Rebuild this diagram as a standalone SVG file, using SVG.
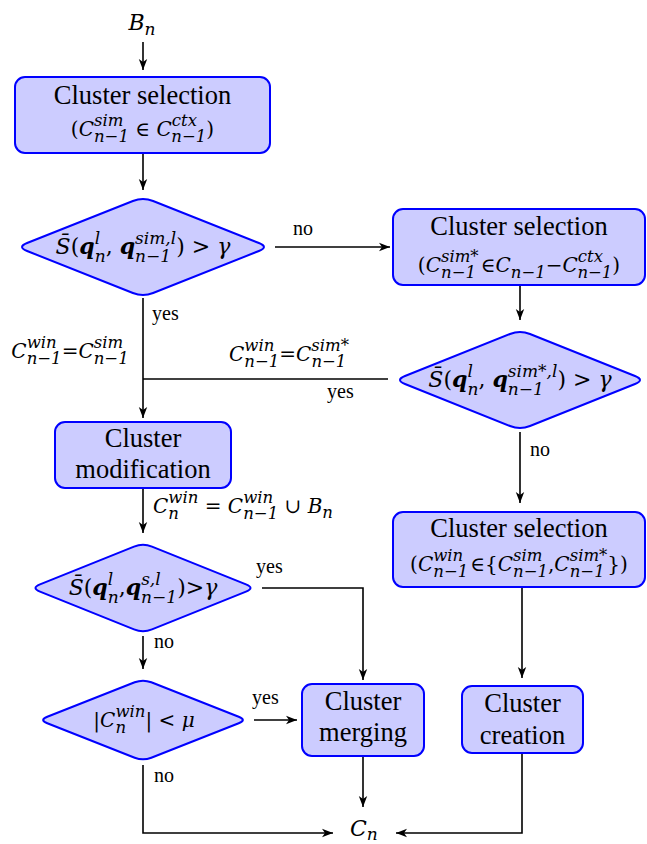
<svg xmlns="http://www.w3.org/2000/svg" width="647" height="844" viewBox="0 0 647 844">
<style>
.tt{font-family:"Liberation Serif",serif;font-size:26.5px;fill:#000}
.lb{font-family:"Liberation Serif",serif;font-size:20px;fill:#000}
.mt{font-family:"DejaVu Serif",serif;font-size:20px;fill:#000}
.md{font-family:"DejaVu Serif",serif;font-size:22px;fill:#000}
.i{font-style:italic}
.q{font-style:italic;font-weight:bold}
.sc{font-size:16.5px;font-style:italic}
.sd{font-size:17px;font-style:italic}
.node{fill:#ccccff;stroke:#0000ff;stroke-width:2}
.edge{fill:none;stroke:#000;stroke-width:1.6}
</style>
<defs>
<marker id="ah" markerUnits="userSpaceOnUse" markerWidth="12" markerHeight="10" viewBox="0 0 12 10" refX="11" refY="5" orient="auto"><path d="M0,0.8 L11,5 L0,9.2 L3,5 Z" fill="#000"/></marker>
</defs>
<rect width="647" height="844" fill="#fff"/>

<g id="connectors">
<path class="edge" d="M143,42 V70" marker-end="url(#ah)"/>
<path class="edge" d="M143,153 V190" marker-end="url(#ah)"/>
<path class="edge" d="M275,247 H390" marker-end="url(#ah)"/>
<path class="edge" d="M520,285 V320" marker-end="url(#ah)"/>
<path class="edge" d="M388,379 H143"/>
<path class="edge" d="M143,298 V418" marker-end="url(#ah)"/>
<path class="edge" d="M143,488 V533" marker-end="url(#ah)"/>
<path class="edge" d="M262,588 H363 V680" marker-end="url(#ah)"/>
<path class="edge" d="M143,636 V669" marker-end="url(#ah)"/>
<path class="edge" d="M254,720 H297" marker-end="url(#ah)"/>
<path class="edge" d="M143,765 V833 H333" marker-end="url(#ah)"/>
<path class="edge" d="M363,756 V807" marker-end="url(#ah)"/>
<path class="edge" d="M522,753 V833 H396" marker-end="url(#ah)"/>
<path class="edge" d="M520,432 V503" marker-end="url(#ah)"/>
<path class="edge" d="M522,587 V678" marker-end="url(#ah)"/>
<text class="lb" x="293" y="235">no</text>
<text class="lb" x="152" y="320">yes</text>
<text class="lb" x="327" y="398">yes</text>
<text class="lb" x="530" y="456">no</text>
<text class="lb" x="256" y="573">yes</text>
<text class="lb" x="154" y="648">no</text>
<text class="lb" x="252" y="704">yes</text>
<text class="lb" x="154" y="782">no</text>
<text class="mt" x="70" y="358" text-anchor="middle"><tspan class="i">C</tspan><tspan class="sc" dy="-10">win</tspan><tspan class="sc" dx="-30" dy="16">n−1</tspan><tspan dy="-6">=</tspan><tspan class="i">C</tspan><tspan class="sc" dy="-10">sim</tspan><tspan class="sc" dx="-29.4" dy="16">n−1</tspan></text>
<text class="mt" x="289" y="361" text-anchor="middle"><tspan class="i">C</tspan><tspan class="sc" dy="-10">win</tspan><tspan class="sc" dx="-30" dy="16">n−1</tspan><tspan dy="-6">=</tspan><tspan class="i">C</tspan><tspan class="sc" dy="-10">sim*</tspan><tspan class="sc" dx="-37.6" dy="16">n−1</tspan></text>
<text class="mt" x="153" y="513"><tspan class="i">C</tspan><tspan class="sc" dy="-10">win</tspan><tspan class="sc" dx="-30" dy="16">n</tspan><tspan dx="19.4" dy="-6"> = </tspan><tspan class="i">C</tspan><tspan class="sc" dy="-10">win</tspan><tspan class="sc" dx="-30" dy="16">n−1</tspan><tspan dy="-6"> ∪ </tspan><tspan class="i">B</tspan><tspan class="sc" dy="5">n</tspan></text>
</g>

<g id="input">
<text class="md" x="142" y="30" text-anchor="middle"><tspan class="i">B</tspan><tspan class="sd" dy="5">n</tspan></text>
</g>

<g id="sel1">
<rect class="node" x="15" y="77" width="255" height="76" rx="10"/>
<text class="tt" x="142.5" y="104" text-anchor="middle">Cluster selection</text>
<text class="mt" x="142.5" y="136" text-anchor="middle">(<tspan class="i">C</tspan><tspan class="sc" dy="-10">sim</tspan><tspan class="sc" dx="-29.4" dy="16">n−1</tspan><tspan dy="-6"> ∈ </tspan><tspan class="i">C</tspan><tspan class="sc" dy="-10">ctx</tspan><tspan class="sc" dx="-25.6" dy="16">n−1</tspan><tspan dy="-6">)</tspan></text>
</g>

<g id="dec1">
<path class="node" d="M27.1,243 L132.9,201 Q143,197 153.1,201 L258.9,243 Q269,247 258.9,251 L153.1,293 Q143,297 132.9,293 L27.1,251 Q17,247 27.1,243 Z"/>
<text class="md" x="143" y="254" text-anchor="middle"><tspan class="i">S̄</tspan>(<tspan class="q">q</tspan><tspan class="sd" dy="-10">l</tspan><tspan class="sd" dx="-5.4" dy="18">n</tspan><tspan dy="-8">, </tspan><tspan class="q">q</tspan><tspan class="sd" dy="-10">sim,l</tspan><tspan class="sd" dx="-41.1" dy="18">n−1</tspan><tspan dx="5.1" dy="-8">) &gt; </tspan><tspan class="i">γ</tspan></text>
</g>

<g id="sel2">
<rect class="node" x="393" y="209" width="252" height="76" rx="10"/>
<text class="tt" x="519" y="235" text-anchor="middle">Cluster selection</text>
<text class="mt" x="519" y="272" text-anchor="middle">(<tspan class="i">C</tspan><tspan class="sc" dy="-10">sim*</tspan><tspan class="sc" dx="-37.6" dy="16">n−1</tspan><tspan dx="4.7" dy="-6">∈</tspan><tspan class="i">C</tspan><tspan class="sc" dy="6">n−1</tspan><tspan dy="-6">−</tspan><tspan class="i">C</tspan><tspan class="sc" dy="-10">ctx</tspan><tspan class="sc" dx="-25.6" dy="16">n−1</tspan><tspan dy="-6">)</tspan></text>
</g>

<g id="dec2">
<path class="node" d="M405,376 L510,334 Q520,330 530,334 L635,376 Q645,380 635,384 L530,426 Q520,430 510,426 L405,384 Q395,380 405,376 Z"/>
<text class="md" x="520" y="387" text-anchor="middle"><tspan class="i">S̄</tspan>(<tspan class="q">q</tspan><tspan class="sd" dy="-10">l</tspan><tspan class="sd" dx="-5.4" dy="18">n</tspan><tspan dy="-8">, </tspan><tspan class="q">q</tspan><tspan class="sd" dy="-10">sim*,l</tspan><tspan class="sd" dx="-49.6" dy="18">n−1</tspan><tspan dx="13.6" dy="-8">) &gt; </tspan><tspan class="i">γ</tspan></text>
</g>

<g id="mod">
<rect class="node" x="55" y="422" width="176" height="66" rx="10"/>
<text class="tt" x="143" y="447" text-anchor="middle">Cluster</text>
<text class="tt" x="143" y="478" text-anchor="middle">modification</text>
</g>

<g id="dec3">
<path class="node" d="M40,584.4 L134,546.6 Q143,543 152,546.6 L246,584.4 Q255,588 246,591.6 L152,629.4 Q143,633 134,629.4 L40,591.6 Q31,588 40,584.4 Z"/>
<text class="md" x="143" y="595" text-anchor="middle"><tspan class="i">S̄</tspan>(<tspan class="q">q</tspan><tspan class="sd" dy="-10">l</tspan><tspan class="sd" dx="-5.4" dy="18">n</tspan><tspan dy="-8">,</tspan><tspan class="q">q</tspan><tspan class="sd" dy="-10">s,l</tspan><tspan class="sd" dx="-19.6" dy="18">n−1</tspan><tspan dy="-8">)&gt;</tspan><tspan class="i">γ</tspan></text>
</g>

<g id="sel3">
<rect class="node" x="393" y="512" width="252" height="75" rx="10"/>
<text class="tt" x="519" y="537" text-anchor="middle">Cluster selection</text>
<text class="mt" x="519" y="571" text-anchor="middle">(<tspan class="i">C</tspan><tspan class="sc" dy="-10">win</tspan><tspan class="sc" dx="-30" dy="16">n−1</tspan><tspan dx="2" dy="-6">∈{</tspan><tspan class="i">C</tspan><tspan class="sc" dy="-10">sim</tspan><tspan class="sc" dx="-29.4" dy="16">n−1</tspan><tspan dy="-6">,</tspan><tspan class="i">C</tspan><tspan class="sc" dy="-10">sim*</tspan><tspan class="sc" dx="-37.6" dy="16">n−1</tspan><tspan dx="2.7" dy="-6">})</tspan></text>
</g>

<g id="dec4">
<path class="node" d="M47.3,716.7 L134.7,682.3 Q143,679 151.3,682.3 L238.7,716.7 Q247,720 238.7,723.3 L151.3,757.7 Q143,761 134.7,757.7 L47.3,723.3 Q39,720 47.3,716.7 Z"/>
<text class="mt" x="144" y="727" text-anchor="middle">|<tspan class="i">C</tspan><tspan class="sc" dy="-10">win</tspan><tspan class="sc" dx="-30" dy="16">n</tspan><tspan dx="19.4" dy="-6">| &lt; </tspan><tspan class="i">μ</tspan></text>
</g>

<g id="merge">
<rect class="node" x="302" y="684" width="122" height="72" rx="10"/>
<text class="tt" x="363" y="710" text-anchor="middle">Cluster</text>
<text class="tt" x="363" y="741" text-anchor="middle">merging</text>
</g>

<g id="create">
<rect class="node" x="462" y="686" width="121" height="67" rx="10"/>
<text class="tt" x="522.5" y="712" text-anchor="middle">Cluster</text>
<text class="tt" x="522.5" y="744" text-anchor="middle">creation</text>
</g>

<g id="output">
<text class="md" x="350" y="836"><tspan class="i">C</tspan><tspan class="sd" dy="4">n</tspan></text>
</g>
</svg>
